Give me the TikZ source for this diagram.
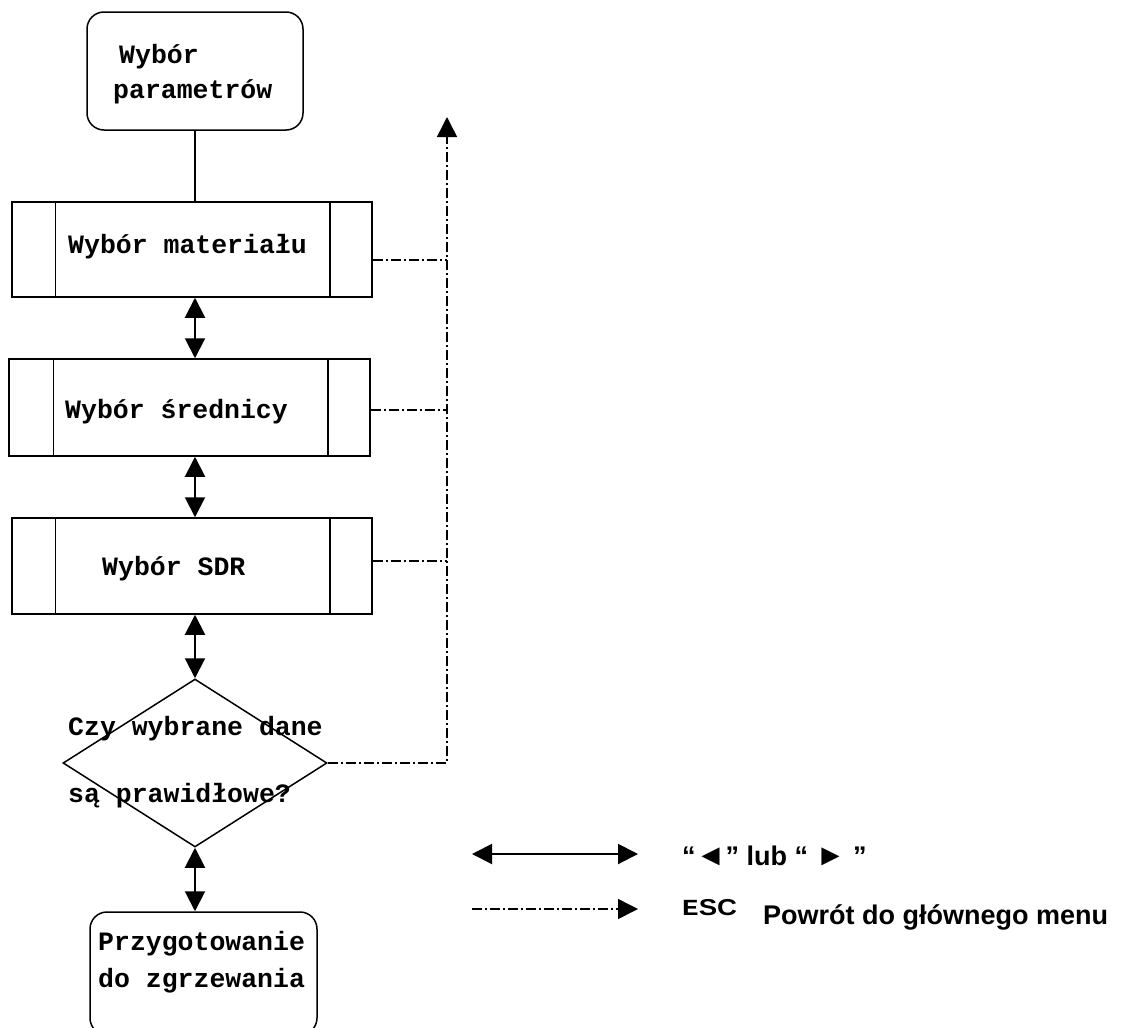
\documentclass[tikz,border=0pt]{standalone}
\usepackage{graphicx}
\usepackage{fontspec}
\setmainfont{Liberation Sans}
\newfontfamily\cour{Liberation Mono}
\usetikzlibrary{arrows.meta,shapes.geometric}
\newcommand{\bigtri}[1]{\raisebox{-0.03em}{\scalebox{1.12}{#1}}}
\begin{document}
\begin{tikzpicture}[x=1pt,y=-1pt,
  box/.style={draw,line width=1.5pt,inner sep=0pt},
  proc/.style={box,minimum width=360pt,minimum height=96pt},
  term/.style={box,rounded corners=17pt},
  ctext/.style={font=\cour\bfseries\fontsize{26.5}{30}\selectfont,inner sep=0pt,anchor=base west},
  stext/.style={font=\bfseries\fontsize{27}{30}\selectfont,inner sep=0pt,anchor=base west},
  tip/.tip={Triangle[length=20pt,width=20pt]},
  dbl/.style={line width=2pt,tip-tip},
  esc/.style={line width=1.5pt,dash pattern=on 10pt off 3pt on 2pt off 3pt},
  conn/.style={line width=1.5pt}]
\useasboundingbox (0,0) rectangle (1125,1028);

% top terminal
\node[term,minimum width=216pt,minimum height=118pt] (top) at (195,71) {};
\node[ctext] (t1a) at (119,63) {Wybór};
\node[ctext] (t1b) at (113,98) {parametrów};

% process boxes
\node[proc,minimum height=95pt] (m1) at (192,249.5) {};
\node[proc,minimum width=361pt,minimum height=97pt] (m2) at (189.5,407.5) {};
\node[proc] (m3) at (192,566) {};
\foreach \m/\l/\r in {m1/44/43, m2/45/43, m3/44/43}{
  \draw[conn] ([xshift=\l pt]\m.north west) -- ([xshift=\l pt]\m.south west);
  \draw[conn] ([xshift=-\r pt]\m.north east) -- ([xshift=-\r pt]\m.south east);
}
\node[ctext] (t2) at (68,253) {Wybór materiału};
\node[ctext] (t3) at (65,418) {Wybór średnicy};
\node[ctext] (t4) at (102,575) {Wybór SDR};

% decision
\node[draw,diamond,line width=1.5pt,minimum width=264pt,minimum height=168pt,inner sep=0pt] (d) at (195,763) {};
\node[ctext] (t5a) at (68,735) {Czy wybrane dane};
\node[ctext] (t5b) at (68,802) {są prawidłowe?};

% bottom terminal
\node[term,minimum width=227pt,minimum height=123pt] (bot) at (203.5,973.5) {};
\node[ctext] (t6a) at (98,950) {Przygotowanie};
\node[ctext] (t6b) at (98,987) {do zgrzewania};

% connectors
\draw[conn] (top.south) -- (top.south |- m1.north);
\draw[dbl] (m1.south -| d.north) -- (m2.north -| d.north);
\draw[dbl] (m2.south -| d.north) -- (m3.north -| d.north);
\draw[dbl] (m3.south -| d.north) -- (d.north);
\draw[dbl] (d.south) -- (bot.north -| d.south);

% ESC lines
\coordinate (up) at (447,117);
\draw[esc] ([yshift=-10.5pt]m1.east) -- ([yshift=-10.5pt]m1.east -| up);
\draw[esc] ([yshift=-2.5pt]m2.east) -- ([yshift=-2.5pt]m2.east -| up);
\draw[esc] ([yshift=5pt]m3.east) -- ([yshift=5pt]m3.east -| up);
\draw[esc,-tip] (d.east) -- (d.east -| up) -- (up);

% legend
\coordinate (la) at (472,854);
\coordinate (lb) at (638,854);
\draw[dbl] (la) -- (lb);
\coordinate (lc) at (472,909);
\coordinate (ld) at (638,909);
\draw[esc,-tip] (lc) -- (ld);
\node[stext] (k1) at (682,865) {“\bigtri{◄}” lub “ \bigtri{►} ”};
\node[inner sep=0pt,anchor=base west] (k2) at (682,915) {\fontsize{23}{24}\selectfont\scalebox{1.2}[1]{{\cour\bfseries E}\bfseries SC}};
\node[stext] (k3) at (763,924) {Powrót do głównego menu};
\end{tikzpicture}
\end{document}
